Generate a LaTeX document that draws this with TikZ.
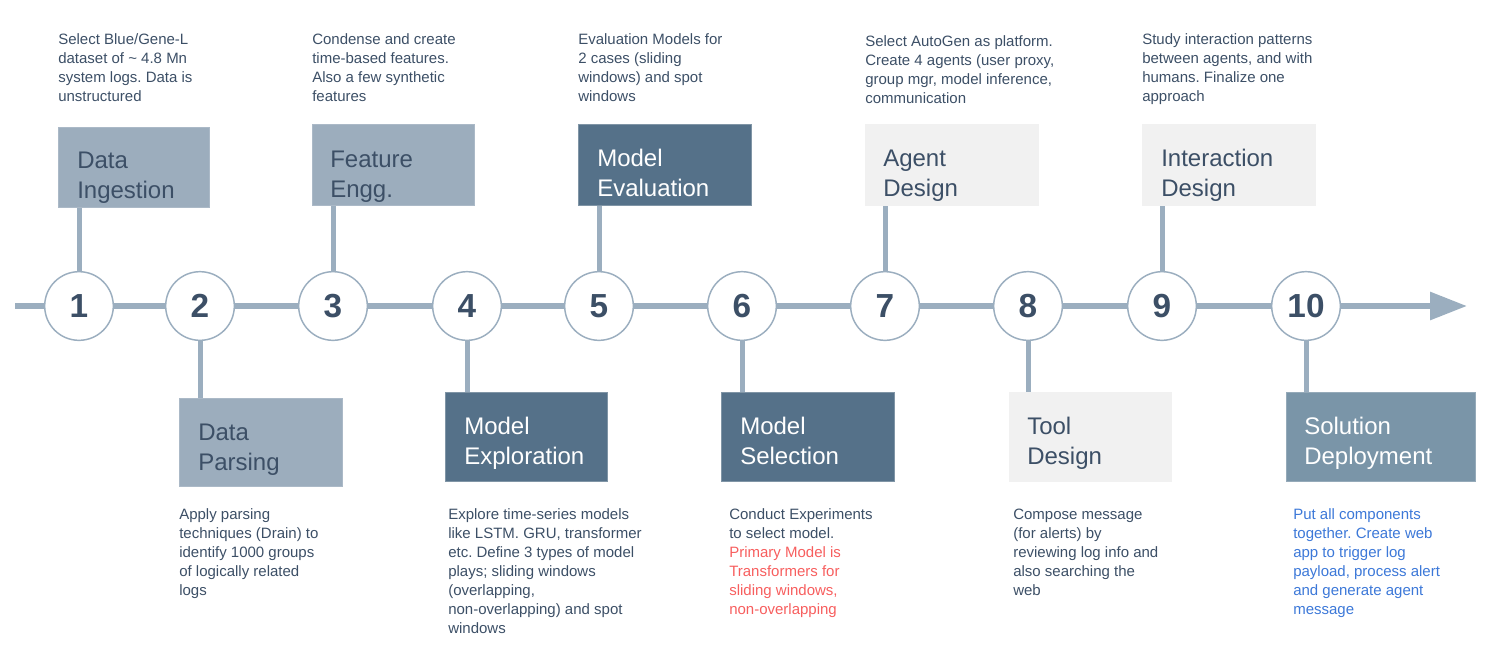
\documentclass[tikz,border=0pt]{standalone}
\usepackage{fontspec}
\setmainfont{Liberation Sans}
\usetikzlibrary{positioning, calc, arrows.meta}
\definecolor{Dark}{HTML}{3C4F66}
\definecolor{Steel}{HTML}{9CADBD}
\definecolor{Slate}{HTML}{557189}
\definecolor{Mist}{HTML}{F1F1F1}
\definecolor{Teal}{HTML}{7A95A8}
\definecolor{Track}{HTML}{9BAEBF}
\definecolor{Alert}{HTML}{F75E5E}
\definecolor{Link}{HTML}{3C78D8}
\definecolor{White}{HTML}{FFFFFF}
\frenchspacing
\tikzset{
    stepcircle/.style={circle, draw=Track, line width=1.1pt, fill=White, minimum size=51.5pt, inner sep=0pt, text=Dark, font=\fontsize{25}{30}\selectfont\bfseries},
    track/.style={line width=4.5pt, color=Track},
    stem/.style={line width=3.75pt, color=Track},
    phasebox/.style={rectangle, anchor=north west, inner sep=0pt, line width=0.75pt},
    steelbox/.style={phasebox, fill=Steel, draw=Steel!85!White},
    slatebox/.style={phasebox, fill=Slate, draw=Slate!75!White},
    mistbox/.style={phasebox, fill=Mist, draw=Mist},
    tealbox/.style={phasebox, fill=Teal, draw=Teal!80!White},
    title/.style={anchor=base west, inner sep=0pt, align=left, font=\fontsize{18}{22.5}\selectfont},
    note/.style={anchor=base west, inner sep=0pt, align=left, text=Dark, font=\fontsize{11.25}{14.25}\selectfont},
}

\begin{document}
\begin{tikzpicture}[x=0.75pt, y=-0.75pt]
    \useasboundingbox (0,0) rectangle (1505,644);

    % Cerchi numerati
    \foreach \i/\x in {1/79, 2/200, 3/333, 4/467, 5/599, 6/742, 7/885, 8/1028, 9/1162, 10/1306} {
        \node[stepcircle] (c\i) at (\x,306) {\i};
    }
    % Linea temporale
    \coordinate (start) at (15,306);
    \coordinate (finish) at (1467,306);
    \draw[track] (start) -- (c1);
    \foreach \i [count=\j from 2] in {1,...,9} {
        \draw[track] (c\i) -- (c\j);
    }
    \draw[track, -{Triangle[length=27.75pt, width=20.25pt]}] (c10) -- (finish);

    % Riquadri sopra
    \node[steelbox, minimum width=113.25pt, minimum height=60pt] (b1) at (58,127) {};
    \node[steelbox, minimum width=121.5pt, minimum height=60.75pt] (b3) at (312,124) {};
    \node[slatebox, minimum width=129.75pt, minimum height=60.75pt] (b5) at (578,124) {};
    \node[mistbox, minimum width=129.75pt, minimum height=60.75pt] (b7) at (865,124) {};
    \node[mistbox, minimum width=129.75pt, minimum height=60.75pt] (b9) at (1142,124) {};
    % Riquadri sotto
    \node[steelbox, minimum width=122.25pt, minimum height=66pt] (b2) at (179,398) {};
    \node[slatebox, minimum width=121.5pt, minimum height=66.75pt] (b4) at (445,392) {};
    \node[slatebox, minimum width=129.75pt, minimum height=66.75pt] (b6) at (721,392) {};
    \node[mistbox, minimum width=121.5pt, minimum height=66.75pt] (b8) at (1009,392) {};
    \node[tealbox, minimum width=141.75pt, minimum height=66.75pt] (b10) at (1286,392) {};

    % Titoli (ancora sulla seconda riga)
    \node[title, text=Dark] (h1) at ([shift={(19,71)}]b1.north west) {Data\\Ingestion};
    \node[title, text=Dark] (h2) at ([shift={(19,72)}]b2.north west) {Data\\Parsing};
    \node[title, text=Dark] (h3) at ([shift={(18,73)}]b3.north west) {Feature\\Engg.};
    \node[title, text=White] (h4) at ([shift={(19,72)}]b4.north west) {Model\\Exploration};
    \node[title, text=White] (h5) at ([shift={(19,72)}]b5.north west) {Model\\Evaluation};
    \node[title, text=White] (h6) at ([shift={(19,72)}]b6.north west) {Model\\Selection};
    \node[title, text=Dark] (h7) at ([shift={(18,72)}]b7.north west) {Agent\\Design};
    \node[title, text=Dark] (h8) at ([shift={(18,72)}]b8.north west) {Tool\\Design};
    \node[title, text=Dark] (h9) at ([shift={(19,72)}]b9.north west) {Interaction\\Design};
    \node[title, text=White] (h10) at ([shift={(18,72)}]b10.north west) {Solution\\Deployment};

    % Collegamenti
    \foreach \i in {1,3,5,7,9} {
        \draw[stem] (c\i.north) -- (c\i |- b\i.south);
    }
    \foreach \i in {2,4,6,8,10} {
        \draw[stem] (c\i.south) -- (c\i |- b\i.north);
    }

    % Descrizioni (ancora sull'ultima riga)
    \node[note] (n1) at (58,101) {Select Blue/Gene-L\\dataset of \textasciitilde{} 4.8 Mn\\system logs. Data is\\unstructured};
    \node[note] (n3) at (312,101) {Condense and create\\time-based features.\\Also a few synthetic\\features};
    \node[note] (n5) at (578,101) {Evaluation Models for\\2 cases (sliding\\windows) and spot\\windows};
    \node[note] (n7) at (865,103.5) {Select AutoGen as platform.\\Create 4 agents (user proxy,\\group mgr, model inference,\\communication};
    \node[note] (n9) at (1142,101) {Study interaction patterns\\between agents, and with\\humans. Finalize one\\approach};
    \node[note] (n2) at (179,595) {Apply parsing\\techniques (Drain) to\\identify 1000 groups\\of logically related\\logs};
    \node[note] (n4) at (448,633) {Explore time-series models\\like LSTM. GRU, transformer\\etc. Define 3 types of model\\plays; sliding windows\\(overlapping,\\non-overlapping) and spot\\windows};
    \node[note] (n6) at (729,614) {Conduct Experiments\\to select model.\\\textcolor{Alert}{Primary Model is}\\\textcolor{Alert}{Transformers for}\\\textcolor{Alert}{sliding windows,}\\\textcolor{Alert}{non-overlapping}};
    \node[note] (n8) at (1013,595) {Compose message\\(for alerts) by\\reviewing log info and\\also searching the\\web};
    \node[note, text=Link] (n10) at (1293,614) {Put all components\\together. Create web\\app to trigger log\\payload, process alert\\and generate agent\\message};
\end{tikzpicture}
\end{document}
